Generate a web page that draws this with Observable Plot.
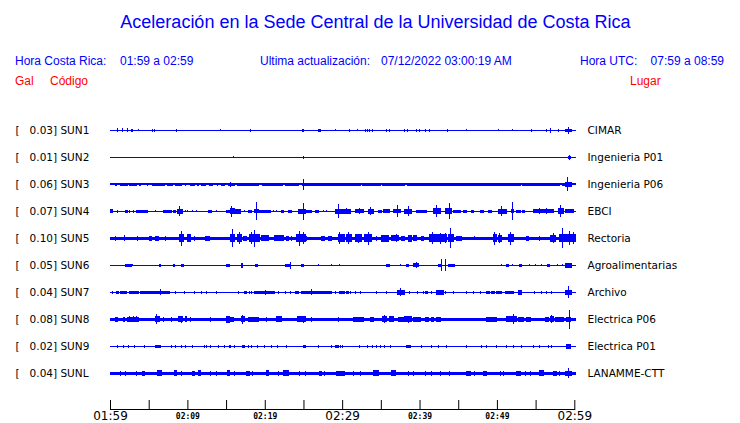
<!DOCTYPE html>
<html><head><meta charset="utf-8">
<script src="https://cdn.jsdelivr.net/npm/d3@7"></script>
<script src="https://cdn.jsdelivr.net/npm/@observablehq/plot@0.6"></script>
<style>
body{margin:0;background:#fff;}
#wrap{position:relative;width:740px;height:423px;overflow:hidden;font-family:"Liberation Sans",Arial,sans-serif;background:#fff;}
#chart{position:absolute;left:0;top:0;}
.t{position:absolute;white-space:pre;font-size:12px;line-height:12px;}
.b{color:#0000ff}.r{color:#ff0000}
#title{position:absolute;left:0;width:751px;text-align:center;top:13px;font-size:18px;line-height:18px;color:#0000ff;}
</style></head><body>
<div id="wrap">
<div id="chart"></div>
<div id="title">Aceleración en la Sede Central de la Universidad de Costa Rica</div>
<div class="t b" style="left:15px;top:55px">Hora Costa Rica:</div>
<div class="t b" id="crT" style="left:120px;top:55px"></div>
<div class="t b" style="left:260px;top:55px">Ultima actualización:</div>
<div class="t b" id="upd" style="left:381px;top:55px"></div>
<div class="t b" style="left:580px;top:55px">Hora UTC:</div>
<div class="t b" id="utcT" style="right:16px;top:55px"></div>
<div class="t r" style="left:15px;top:75px">Gal</div>
<div class="t r" style="left:50px;top:75px">Código</div>
<div class="t r" style="left:630px;top:75px">Lugar</div>
</div>
<script>
// ---- data ----
const codes  = ["SUN1","SUN2","SUN3","SUN4","SUN5","SUN6","SUN7","SUN8","SUN9","SUNL"];
const gal    = ["0.03","0.01","0.06","0.07","0.10","0.05","0.04","0.08","0.02","0.04"];
const places = ["CIMAR","Ingenieria P01","Ingenieria P06","EBCI","Rectoria","Agroalimentarias","Archivo","Electrica P06","Electrica P01","LANAMME-CTT"];
const costaRicaRange = "01:59 a 02:59";
const utcRange = "07:59 a 08:59";
const updated = "07/12/2022 03:00:19 AM";
const tickMinutes = [0,5,10,15,20,25,30,35,40,45,50,55,60];
const bigLabelMinutes = [0,30,60];
const smallLabelMinutes = [10,20,40,50];
const traceEnd = 3606; // seconds after 01:59
// half thickness of the background noise band per station
const baseHalf = [0.5,0.5,0.9,0.5,1.8,0.5,0.6,1.6,0.5,1.7];
// events: [second, halfAmplitude] or [startSecond, endSecond, halfAmplitude]
const ev1 = [[57,2],[95,2],[134,2],[163,178,1.5],[219,1],[328,1.5],[343,1.5],[514,1.5],[855,1],[1088,1.5],[1491,1504,1.5],[1620,1634,1.5],[1745,1],[1856,1.5],[1918,1],[1980,1.5],[1995,1.5],[2011,1.5],[2032,1.5],[2140,1.5],[2171,1.5],[2280,1.5],[2308,1.5],[2373,1.5],[2398,1.5],[2450,1.5],[2481,1.5],[2615,1.5],[2766,1],[3009,1],[3117,1],[3267,1.5],[3381,1.5],[3412,2.5],[3474,1.5],[3530,3580,1.5],[3554,3.5]];
const ev2 = [[956,1],[1499,1.2],[3554,3572,1.5],[3563,2.5]];
const ev3 = [[39,54,1.8],[78,132,1.8],[155,171,1.8],[186,209,1.8],[225,240,1.8],[287,1.8],[326,426,1.8],[442,481,1.8],[504,558,1.8],[582,1.8],[628,659,1.8],[675,690,1.8],[713,737,1.8],[775,791,1.8],[837,1.8],[868,884,1.8],[915,969,1.8],[938,2.5],[985,1148,1.8],[1179,1334,1.8],[1357,1458,1.8],[1489,1939,1.8],[1497,5.3],[1954,2094,1.8],[2109,2287,1.8],[2303,2559,1.8],[2574,2908,1.8],[2923,3179,1.8],[3195,3489,1.8],[3505,3528,1.8],[3528,3582,2.5],[3551,7]];
const ev4 = [[0,16,2],[60,1.5],[122,137,1.5],[155,1.5],[181,1.5],[202,225,1.5],[240,285,1.5],[292,1.5],[349,1],[413,473,1.5],[491,509,1.5],[525,561,2.5],[540,5],[582,1],[602,1],[638,1],[672,1],[762,789,1.5],[827,1],[905,930,1.5],[938,969,3],[944,5.7],[975,1008,2.5],[1041,1],[1072,1099,1.5],[1124,1150,2],[1138,9],[1150,1241,1.5],[1266,1],[1293,1],[1326,1344,1.5],[1383,1409,1.5],[1460,1512,2.5],[1497,8.5],[1525,1564,1.5],[1595,1615,1.5],[1654,1],[1680,1],[1745,1861,2.5],[1770,7],[1835,3],[1900,1964,2],[1933,3],[2003,2042,2.5],[2021,4],[2080,2107,1.5],[2119,2171,2],[2197,2249,2],[2228,6],[2287,2339,2.5],[2318,5],[2378,2404,1.5],[2417,2456,1.5],[2507,2559,3],[2533,6],[2598,2650,3],[2629,8],[2662,2714,1.5],[2740,2766,1.5],[2805,2817,1.5],[2869,2895,1.5],[2933,2960,1.5],[3011,3076,2.5],[3037,5],[3115,3127,2],[3117,9],[3154,3179,1.5],[3200,3210,1.5],[3282,3437,2],[3334,3],[3386,3],[3476,3515,3],[3495,6],[3528,3592,2]];
const ev5 = [[39,2.5],[111,3],[212,2.5],[310,323,2.5],[349,375,2.5],[432,2.5],[535,571,4],[551,7.3],[602,628,4],[659,2.5],[737,768,2.5],[938,964,4],[951,9],[990,1021,4],[1006,6],[1034,1060,2.5],[1078,1163,4],[1099,6],[1119,8.3],[1176,1227,3],[1279,1305,3],[1318,1344,3],[1370,1383,2.5],[1409,2.5],[1448,1512,4],[1473,7.5],[1499,6],[1525,2.5],[1642,1667,2.5],[1693,1719,2.5],[1770,1822,4],[1783,6],[1835,1874,4],[1853,6],[1900,1952,4],[1925,4.5],[1977,2029,4],[2003,6.7],[2068,2.5],[2107,2158,3.5],[2184,2236,3],[2218,4],[2262,2287,2.5],[2313,2339,3.5],[2352,2378,3],[2417,2429,2.5],[2481,2520,4],[2502,6],[2533,2611,4],[2559,5.5],[2598,5],[2623,2662,4],[2639,10],[2688,2727,2.5],[2830,2],[2972,2998,4],[2985,6.5],[3011,3037,3.5],[3022,5],[3088,3127,4],[3107,6.5],[3231,3244,2.5],[3334,2.5],[3412,3451,3.5],[3437,5],[3489,3528,4],[3510,10],[3541,3567,4],[3561,7],[3580,3606,4],[3592,6]];
const ev6 = [[122,163,1.7],[178,1],[380,390,1.5],[491,502,1.5],[551,571,1.7],[907,923,1.5],[1016,1029,2.5],[1130,1145,1.5],[1362,1388,1.5],[1403,3.5],[1486,1504,1.5],[1615,1],[1719,1],[1781,1],[2140,2166,1.5],[2249,1],[2301,2316,1.5],[2352,2394,2],[2373,3],[2546,2559,1.5],[2567,6],[2605,6],[2623,2670,1.5],[3032,1],[3076,3092,1.5],[3123,1],[3174,3192,1.5],[3251,1],[3298,1],[3344,1],[3391,3404,1.5],[3468,1],[3505,1],[3530,3577,2.5]];
const ev7 = [[18,1.5],[52,64,1.5],[78,129,1.5],[155,219,1.5],[233,452,1.5],[388,3],[465,1.5],[504,1.5],[576,1.5],[659,1.5],[711,1.5],[752,1.5],[827,1.5],[995,1.5],[1041,1057,1.5],[1078,1.5],[1099,1.5],[1119,1279,1.5],[1202,2.5],[1305,1.5],[1357,1.5],[1396,1.5],[1440,1460,1.5],[1486,1719,1.5],[1564,3],[1745,1.5],[1783,1822,1.5],[1835,1848,1.5],[1866,1.5],[1900,1.5],[1939,1.5],[2068,1.5],[2146,1.5],[2228,2280,2.5],[2254,4],[2326,1.5],[2383,1.5],[2429,1.5],[2443,2460,1.5],[2494,1.5],[2533,2584,2.5],[2605,1.5],[2662,1.5],[2766,1.5],[2817,1.5],[2869,1.5],[2921,2946,1.5],[2960,2985,1.5],[2998,3024,1.5],[3037,1.5],[3063,3127,1.5],[3166,3192,2.5],[3295,1.5],[3344,1.5],[3386,1.5],[3427,1.5],[3530,3580,2.5],[3557,6]];
const ev8 = [[39,60,2.5],[103,116,2.5],[137,219,2.5],[155,3],[181,3],[207,3],[349,380,3],[362,5],[413,2.5],[473,2.5],[530,561,3],[551,3.5],[582,597,3],[628,2.5],[783,2.5],[907,923,3.5],[933,956,2.5],[1016,1041,3],[1029,4.5],[1072,1150,2.5],[1215,2.5],[1293,1331,3],[1455,1512,3],[1499,3.5],[1564,2.5],[1770,2.5],[1887,1964,2.5],[2016,2042,2.5],[2114,2146,3],[2132,4],[2166,2197,3],[2236,2274,2.5],[2287,2339,3],[2313,3.5],[2352,2404,2.5],[2443,2466,2.5],[2489,2505,2.5],[2528,2559,2.5],[2921,2998,2.5],[3076,3154,3],[3130,5],[3166,3205,2.5],[3231,3257,2.5],[3373,3399,2.5],[3412,3437,3],[3425,4],[3451,3515,2.5],[3541,3572,2.5],[3559,9.5]];
const ev9 = [[60,1.2],[103,1.2],[147,1.2],[188,1.2],[271,1.2],[349,388,1.2],[478,1.2],[509,1.2],[551,1.2],[582,1.2],[638,1.2],[731,1.2],[750,1.2],[783,1.2],[840,1.2],[886,1.2],[923,938,1.2],[964,1.2],[1026,1041,1.2],[1072,1.2],[1099,1.2],[1145,1.2],[1196,1.2],[1254,1.2],[1300,1.2],[1370,1.2],[1499,1512,1.5],[1615,1.2],[1714,1.2],[1745,1770,1.2],[1791,1.2],[1804,1.2],[1933,1.2],[1995,1.2],[2032,1.2],[2068,1.2],[2094,1.2],[2132,1.2],[2176,1.2],[2301,2332,1.5],[2417,1.2],[2494,1.2],[2546,1.2],[2611,1.2],[2766,1.2],[2882,1.2],[2921,1.2],[2998,1.2],[3076,1.2],[3127,1.2],[3192,1.2],[3282,1.2],[3334,1.2],[3399,1.2],[3427,1.2],[3541,3572,2.5]];
const ev10 = [[85,2.5],[122,2.5],[207,2.5],[250,271,2.5],[367,401,3],[499,514,3],[551,2.5],[638,654,2.5],[685,698,3],[783,2.5],[822,2.5],[913,928,3],[964,2.5],[1060,1078,2.5],[1103,2.5],[1215,1227,3],[1305,2.5],[1347,1383,3],[1473,2.5],[1512,2.5],[1628,1642,2.5],[1667,2.5],[1758,1822,2.5],[1887,2.5],[1939,2.5],[2042,2080,3],[2184,2210,3],[2313,2.5],[2352,2.5],[2450,2.5],[2494,2.5],[2559,2.5],[2636,2.5],[2766,2797,2.5],[2830,2.5],[2895,2921,2.5],[3024,2.5],[3050,2.5],[3154,3179,2.5],[3218,2.5],[3257,2.5],[3334,3360,3],[3437,3464,2.5],[3489,2.5],[3528,3582,2.5],[3554,5]];
const events = [ev1,ev2,ev3,ev4,ev5,ev6,ev7,ev8,ev9,ev10];

// ---- build ----
document.getElementById("crT").textContent = costaRicaRange;
document.getElementById("utcT").textContent = utcRange;
document.getElementById("upd").textContent = updated;

const T0 = Date.UTC(2022, 6, 12, 1, 59, 0);
const at = s => new Date(T0 + s * 1000);
const ROW = 27; // amplitude units between traces

const segs = [];
codes.forEach((c, i) => segs.push({i, t0: 0, t1: traceEnd, a: baseHalf[i]}));
events.forEach((list, i) => list.forEach(e => {
  const [t0, t1, a] = e.length === 2 ? [e[0], e[0], e[1]] : e;
  segs.push({i, t0, t1, a});
}));

const fmt = d3.utcFormat("%H:%M");
const blue = "#0000ff";

const chart = Plot.plot({
  width: 740, height: 423,
  marginLeft: 110, marginRight: 165.7, marginTop: 110, marginBottom: 14,
  x: {type: "utc", domain: [at(0), at(3600)], axis: null},
  y: {domain: [-20.3, 278.7], range: [110, 409], axis: null},
  style: {fontFamily: "DejaVu Sans", fontSize: "10.5px", color: "black", background: "white"},
  marks: [
    Plot.rect(segs, {
      x1: d => at(d.t0), x2: d => at(d.t1),
      y1: d => d.i * ROW - d.a, y2: d => d.i * ROW + d.a,
      fill: blue, insetLeft: -0.5, insetRight: -0.5, shapeRendering: "crispEdges"
    }),
    Plot.text(codes, {
      y: (d, i) => i * ROW, text: (d, i) => `[\u00a0\u00a0\u00a0${gal[i]}] ${d}`,
      frameAnchor: "left", dx: -95, textAnchor: "start", fontSize: 10.5
    }),
    Plot.text(places, {
      y: (d, i) => i * ROW, text: d => d,
      frameAnchor: "right", dx: 12.7, textAnchor: "start", fontSize: 10.5
    }),
    Plot.tickX(tickMinutes, {x: m => at(m * 60), insetTop: 290, stroke: "black"}),
    Plot.frame({anchor: "bottom", stroke: "black"}),
    Plot.axisX(bigLabelMinutes.map(m => at(m * 60)), {
      tickSize: 0, tickPadding: 2, fontSize: 12, tickFormat: fmt, label: null
    }),
    Plot.axisX(smallLabelMinutes.map(m => at(m * 60)), {
      tickSize: 0, tickPadding: 4, fontSize: 8, fontWeight: "bold",
      fontFamily: "DejaVu Sans Mono", tickFormat: fmt, label: null
    })
  ]
});
document.getElementById("chart").appendChild(chart);
</script>
</body></html>
